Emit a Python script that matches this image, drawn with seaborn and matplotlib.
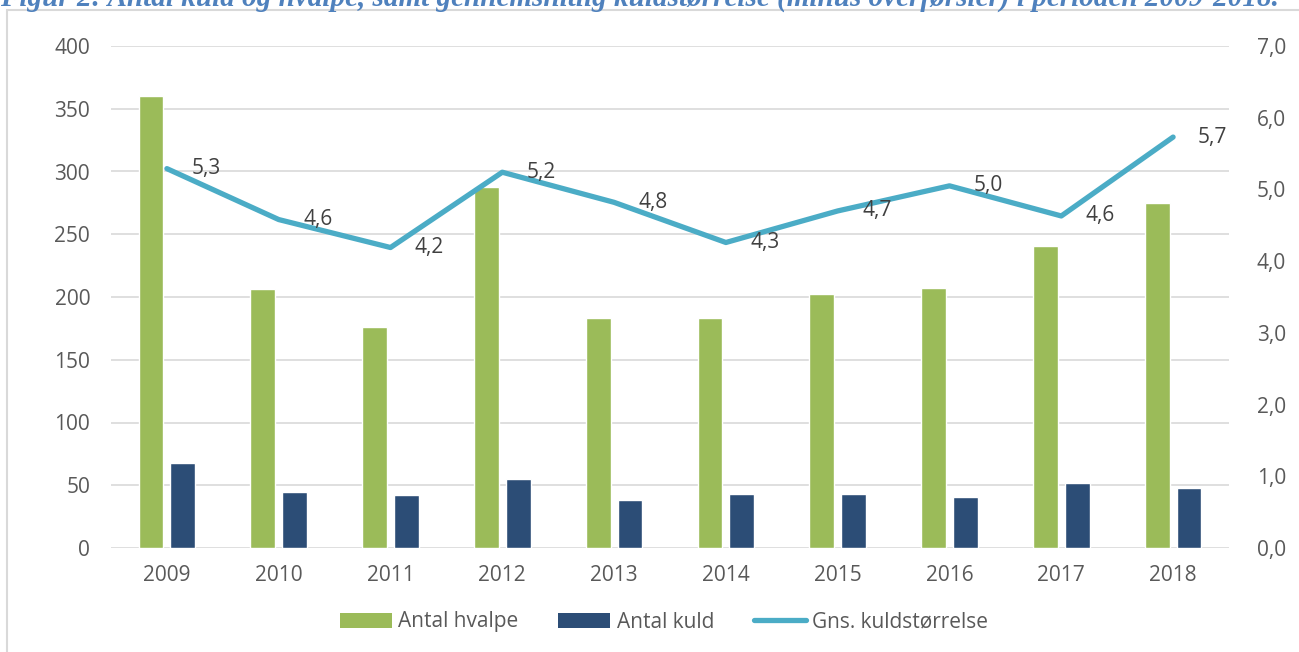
import matplotlib
matplotlib.use("Agg")
import matplotlib.pyplot as plt
import seaborn as sns
import pandas as pd
import numpy as np
from matplotlib.patches import Rectangle
from matplotlib.lines import Line2D
from matplotlib.patches import Patch

years = ["2009", "2010", "2011", "2012", "2013", "2014", "2015", "2016", "2017", "2018"]
hvalpe = [360, 206, 176, 288, 183, 183, 202, 207, 241, 275]
kuld = [68, 45, 42, 55, 38, 43, 43, 41, 52, 48]
kuldstr = [5.29, 4.58, 4.19, 5.24, 4.82, 4.26, 4.70, 5.05, 4.63, 5.73]
left_ticks = [0, 50, 100, 150, 200, 250, 300, 350, 400]
right_ticks = [0, 1, 2, 3, 4, 5, 6, 7]

series_names = ["Antal hvalpe", "Antal kuld", "Gns. kuldstørrelse"]
GREEN = "#9bbb59"
NAVY = "#2c4d76"
LINE = "#4bacc6"
TXT = "#595959"
GRID = "#d9d9d9"
FS = 15

sns.set_theme(style="white")
plt.rcParams["font.family"] = ["Open Sans", "DejaVu Sans"]

df = pd.DataFrame({
    "year": years * 2,
    "value": hvalpe + kuld,
    "series": [series_names[0]] * len(years) + [series_names[1]] * len(years),
})

fig = plt.figure(figsize=(12.99, 6.52), dpi=100)
ax = fig.add_axes([111 / 1299, 1 - 548 / 652, (1229 - 111) / 1299, (548 - 46) / 652])

sns.barplot(data=df, x="year", y="value", hue="series", order=years,
            hue_order=series_names[:2], palette=[GREEN, NAVY],
            width=0.57, gap=0.22, saturation=1, ax=ax, legend=False, zorder=3)

ax.set_ylim(0, 400)
ax.set_xlim(-0.5, 9.5)
ax.set_yticks(left_ticks)
ax.set_yticklabels([str(t) for t in left_ticks])
ax.set_xlabel("")
ax.set_ylabel("")
ax.grid(axis="y", color=GRID, linewidth=1.2, zorder=0)
ax.set_axisbelow(True)
for s in ax.spines.values():
    s.set_visible(False)
ax.tick_params(axis="both", length=0, colors=TXT, labelsize=FS)
ax.tick_params(axis="y", pad=15)
ax.tick_params(axis="x", pad=12)

ax2 = ax.twinx()
xpos = np.arange(len(years))
sns.lineplot(x=xpos, y=kuldstr, color=LINE, linewidth=3.8, ax=ax2,
             solid_capstyle="round", zorder=5)
ax2.set_ylim(0, 7)
ax2.set_xlim(-0.5, 9.5)
ax2.set_yticks(right_ticks)
ax2.set_yticklabels([f"{t:.1f}".replace(".", ",") for t in right_ticks])
for s in ax2.spines.values():
    s.set_visible(False)
ax2.tick_params(axis="y", length=0, colors=TXT, labelsize=FS, pad=20)
ax2.grid(False)
ax2.set_ylabel("")

for x, v in zip(xpos, kuldstr):
    ax2.annotate(f"{v:.1f}".replace(".", ","), (x, v), xytext=(17.5, 0),
                 textcoords="offset points", ha="left", va="center",
                 fontsize=FS, color="#404040", zorder=6)

handles = [Patch(facecolor=GREEN, edgecolor="none"),
           Patch(facecolor=NAVY, edgecolor="none"),
           Line2D([0], [0], color=LINE, linewidth=3.8, solid_capstyle="round")]
fig.legend(handles, series_names, loc="center", bbox_to_anchor=(664 / 1299, 1 - 622 / 652),
           ncol=3, frameon=False, fontsize=FS, labelcolor=TXT,
           handlelength=2.5, handleheight=0.7, handletextpad=0.3, columnspacing=1.9)

fig.patches.append(Rectangle((7 / 1299, -0.01), 1.1, 1 - 10 / 652 + 0.01,
                             transform=fig.transFigure, fill=False,
                             edgecolor="#d9d9d9", linewidth=1.5))

fig.text(0.0, 1 - 6 / 652,
         "Figur 2: Antal kuld og hvalpe, samt gennemsnitlig kuldstørrelse (minus overførsler) i perioden 2009-2018.",
         fontsize=21, fontweight="bold", fontstyle="italic", color="#4f81bd",
         family=["Liberation Serif", "DejaVu Serif"], ha="left", va="baseline")

fig.savefig("out.png", dpi=100)
